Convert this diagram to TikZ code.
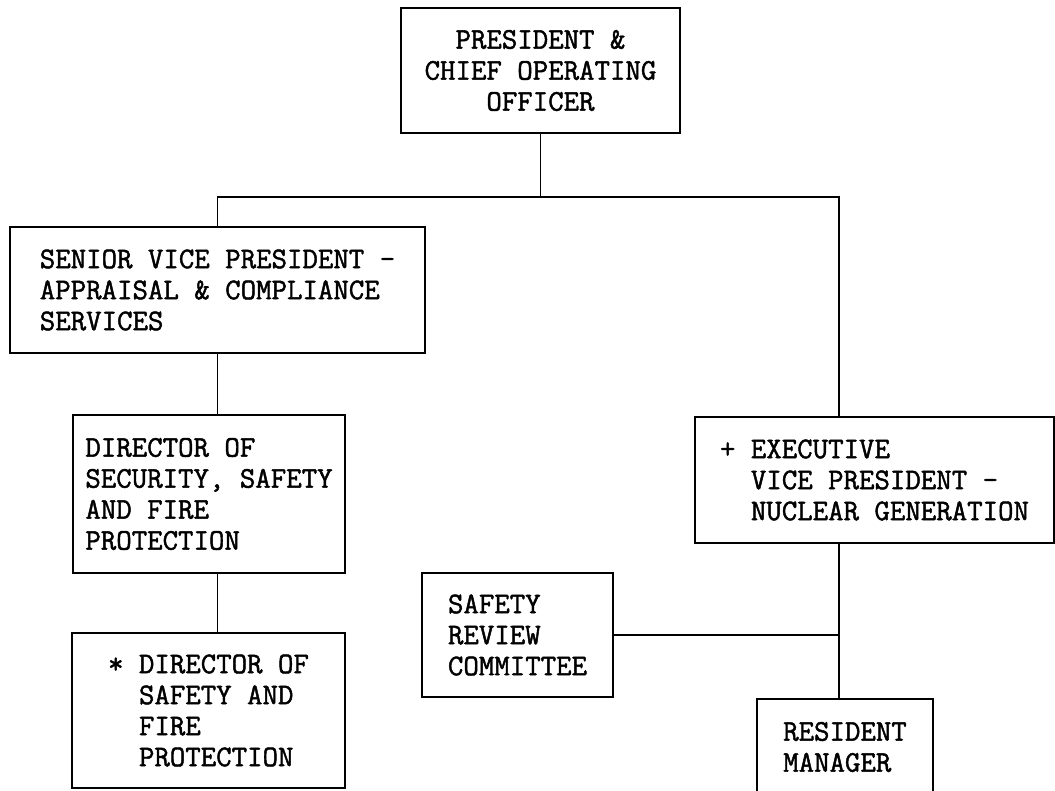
\documentclass[tikz,border=0pt]{standalone}
\usepackage{fontspec}
\newfontfamily\orgfont{Latin Modern Mono}[FakeBold=1.5]
\begin{document}
\begin{tikzpicture}[x=1pt, y=-1pt, line width=1.6pt,
  post/.style={draw, align=left, inner sep=0pt,
    font=\orgfont\fontsize{30}{31}\selectfont}]
  \useasboundingbox (0,0) rectangle (1055,790);

  \node[post, align=center, minimum width=279, minimum height=125] (pres) at (540.5,70.5)
    {PRESIDENT \&\\CHIEF OPERATING\\OFFICER};
  \node[post, minimum width=415, minimum height=126] (svp) at (217.5,290)
    {SENIOR VICE PRESIDENT -\\APPRAISAL \& COMPLIANCE\\SERVICES};
  \node[post, minimum width=272, minimum height=158] (dsec) at (209,494)
    {DIRECTOR OF\\SECURITY, SAFETY\\AND FIRE\\PROTECTION};
  \node[post, minimum width=273, minimum height=155] (dsaf) at (208.5,710.5)
    {* DIRECTOR OF\\\hphantom{*}\ SAFETY AND\\\hphantom{*}\ FIRE\\\hphantom{*}\ PROTECTION};
  \node[post, minimum width=359, minimum height=126] (evp) at (874.5,480)
    {+ EXECUTIVE\\\hphantom{+}\ VICE PRESIDENT -\\\hphantom{+}\ NUCLEAR GENERATION};
  \node[post, minimum width=191, minimum height=124] (src) at (517.5,635)
    {SAFETY\\REVIEW\\COMMITTEE};
  \node[post, minimum width=176, minimum height=96] (rm) at (845,747)
    {RESIDENT\\MANAGER};

  % bus between the two vice presidents
  \coordinate (bus) at (540,197);
  \coordinate (spine) at (839,0);
  \draw (pres.south) -- (pres.south |- bus);
  \draw (svp.north) |- (bus) -| (spine |- evp.north);
  \draw (svp.south) -- (svp.south |- dsec.north);
  \draw (svp.south |- dsec.south) -- (svp.south |- dsaf.north);
  \draw (spine |- evp.south) -- (spine |- rm.north);
  \draw (src.east) -- (spine |- src.east);
\end{tikzpicture}
\end{document}
